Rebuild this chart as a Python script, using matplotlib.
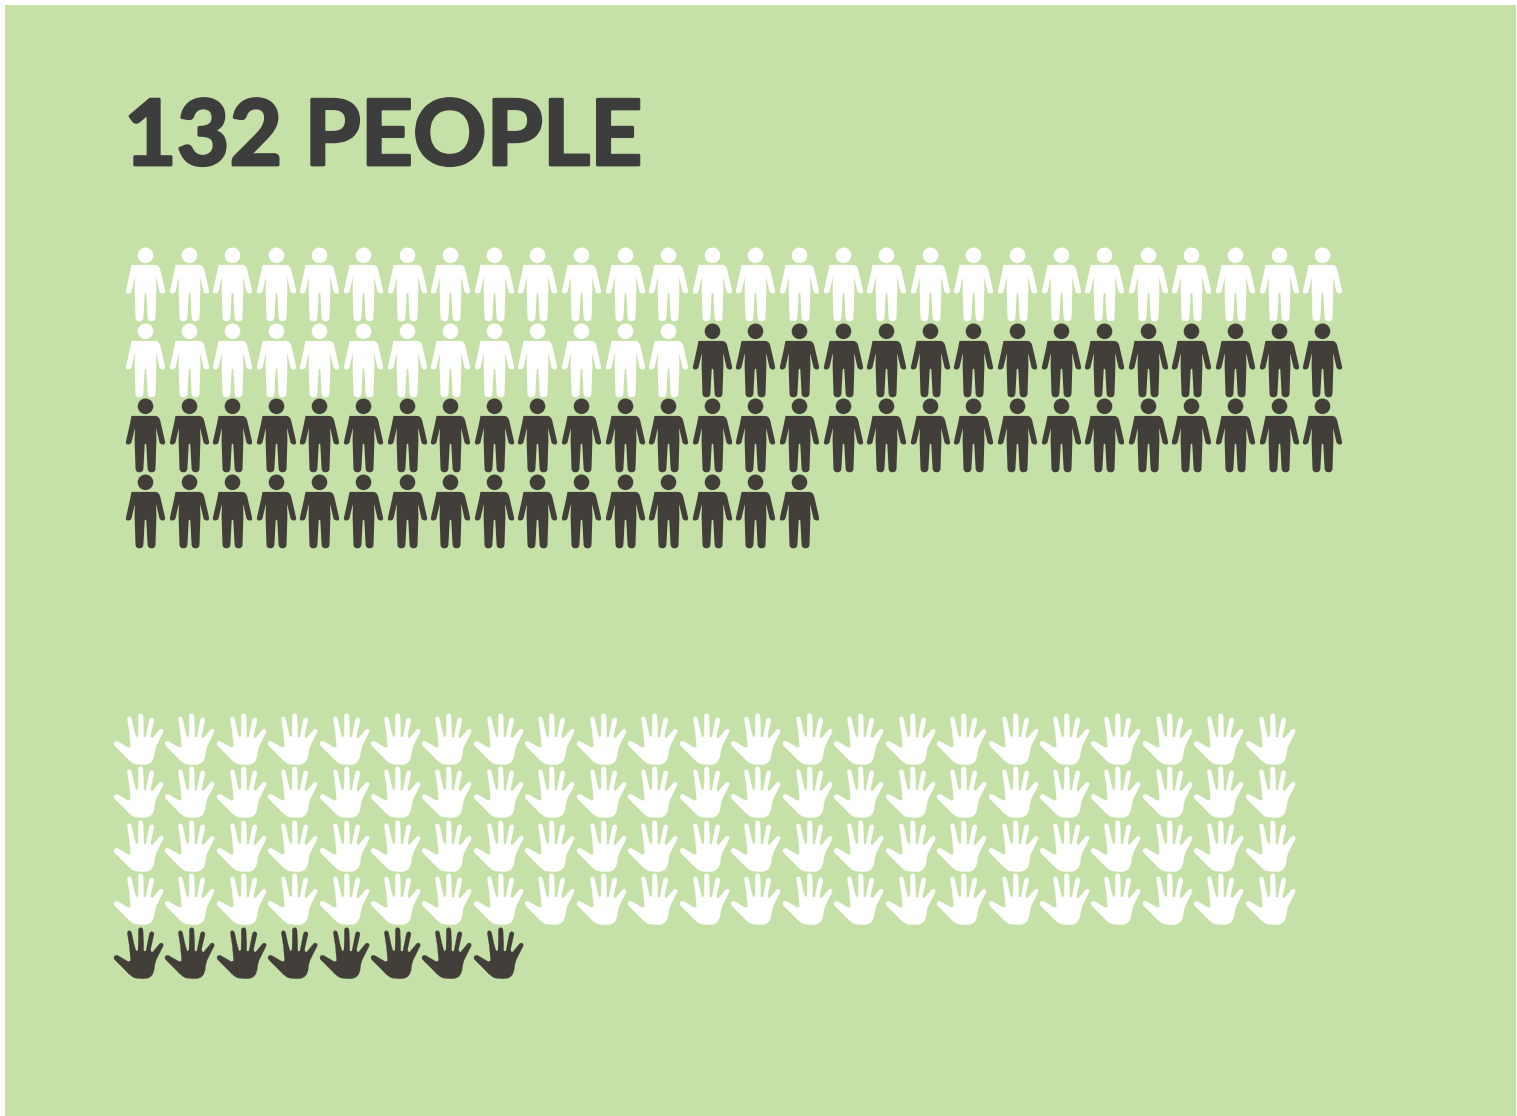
import matplotlib
matplotlib.use('Agg')
import matplotlib.pyplot as plt
import matplotlib.patheffects as pe
from matplotlib.path import Path
from matplotlib.patches import Rectangle

# pictogram counts, each block is 100 icons
person_counts = [41, 59]
hand_counts = [92, 8]
person_per_row = 28
hand_per_row = 23
title = '132 PEOPLE'

WIDTH, HEIGHT, DPI = 1517, 1116, 100
BG = '#c6e1a7'
WHITE = '#ffffff'
DARK = '#423f3b'
TITLE_COLOR = '#3d3d3d'


def smooth_path(points):
    # closed outline through (x, y, is_control) points, control points give the rounding
    verts = [points[0][:2]]
    codes = [Path.MOVETO]
    for p in points[1:]:
        verts.append(p[:2])
        codes.append(Path.CURVE3 if p[2] else Path.LINETO)
    verts.append(points[0][:2])
    codes.append(Path.CLOSEPOLY)
    return Path(verts, codes)


def person_marker():
    # right half of the body, in pixels around the icon centre, mirrored for the left
    right = [
        (0, 19.6, 0), (9.5, 19.6, 0), (14, 19.6, 1), (15, 13.7, 1),
        (17.5, 3, 0), (19.6, -6.3, 0), (20, -9.3, 1), (17, -9, 1),
        (14.8, -8.8, 1), (14, -7, 0), (11, 6, 0), (10.6, 7, 0),
        (10.9, -5, 0), (10, -33, 0), (9.9, -36.8, 1), (6, -36.8, 1),
        (2.4, -36.8, 1), (2.1, -33, 0), (0.8, -9, 0), (0, -8, 0),
    ]
    left = [(-x, y, c) for x, y, c in right[-2:0:-1]]
    body = smooth_path(right + left)
    head = Path.circle((0, 29.2), 7.8)
    return Path.make_compound_path(body, head)


def hand_marker():
    pts = [
        (55, 128, 0), (62, 125, 0), (58, 80, 0), (52, 42, 0), (52, 35, 1), (58, 35, 1),
        (63, 35, 1), (65, 42, 0), (72, 75, 0), (78, 96, 0), (81, 96, 1), (84, 93, 0),
        (85, 60, 0), (85, 33, 0), (85, 26, 1), (92, 26, 1), (99, 26, 1), (99, 33, 0),
        (101, 70, 0), (101, 95, 0), (104, 99, 1), (108, 95, 0), (118, 45, 0),
        (120, 37, 1), (126, 38, 1), (133, 40, 1), (132, 46, 0), (122, 90, 0),
        (122, 101, 1), (128, 99, 0), (148, 75, 0), (152, 70, 1), (157, 73, 1),
        (162, 76, 1), (159, 82, 0), (140, 120, 0), (134, 132, 1), (133, 148, 0),
        (130, 178, 1), (105, 179, 0), (85, 180, 1), (72, 176, 0), (60, 170, 1),
        (50, 158, 0), (16, 124, 0), (9, 118, 1), (13, 112, 1), (17, 106, 1),
        (24, 110, 0),
    ]
    return smooth_path([((x - 85.5) / 3, (103.5 - y) / 3, c) for x, y, c in pts])


def marker_size(path):
    # matplotlib scales a path marker so its largest coordinate reaches half the size
    return (2 * abs(path.vertices).max() * 72 / DPI) ** 2


def draw_block(fig, counts, colors, per_row, marker, cx0, cy0, pitch_x, pitch_y, lw=0):
    rows = (sum(counts) + per_row - 1) // per_row
    ax = fig.add_axes([(cx0 - pitch_x / 2) / WIDTH,
                       1 - (cy0 + (rows - 0.5) * pitch_y) / HEIGHT,
                       per_row * pitch_x / WIDTH,
                       rows * pitch_y / HEIGHT])
    ax.set_xlim(-0.5, per_row - 0.5)
    ax.set_ylim(rows - 0.5, -0.5)
    ax.axis('off')
    start = 0
    for count, color in zip(counts, colors):
        idx = range(start, start + count)
        ax.scatter([i % per_row for i in idx], [i // per_row for i in idx],
                   marker=marker, s=marker_size(marker), c=color, edgecolors=color,
                   linewidths=lw, clip_on=False)
        start += count


fig = plt.figure(figsize=(WIDTH / DPI, HEIGHT / DPI), dpi=DPI, facecolor='white')
fig.add_artist(Rectangle((5 / WIDTH, 0.5 / HEIGHT), 1511 / WIDTH, 1110.5 / HEIGHT,
                         transform=fig.transFigure, facecolor=BG, edgecolor='none',
                         zorder=-1))

fig.text(124 / WIDTH, 1 - 165 / HEIGHT, title, family='Lato', weight='bold',
         fontsize=65.5, color=TITLE_COLOR, ha='left', va='baseline',
         path_effects=[pe.withStroke(linewidth=2.0, foreground=TITLE_COLOR)])

draw_block(fig, person_counts, [WHITE, DARK], person_per_row, person_marker(),
           145, 284, 43.6, 75.6)
draw_block(fig, hand_counts, [WHITE, DARK], hand_per_row, hand_marker(),
           137.7, 738.8, 51.46, 53.5, lw=0.15)

fig.savefig('out.png', dpi=DPI, facecolor=fig.get_facecolor())
